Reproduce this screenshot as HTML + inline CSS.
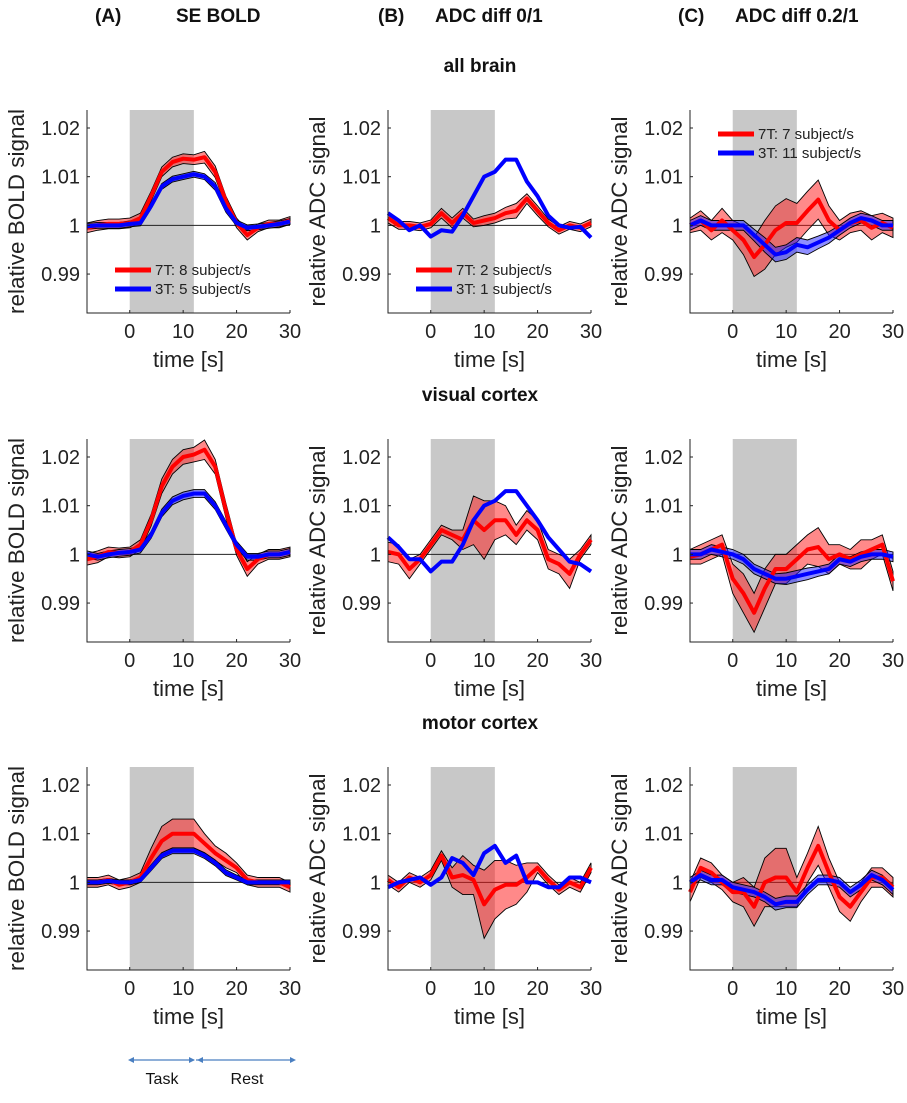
<!DOCTYPE html>
<html><head><meta charset="utf-8"><style>
body{margin:0;background:#fff;}
svg{display:block;font-family:"Liberation Sans",Arial,sans-serif;}
</style></head><body>
<svg id="fig" width="907" height="1103" viewBox="0 0 907 1103">
<g font-weight="bold" font-size="19" fill="#111">
<text x="95" y="22">(A)</text>
<text x="176" y="22">SE BOLD</text>
<text x="378" y="22">(B)</text>
<text x="435" y="22">ADC diff 0/1</text>
<text x="678" y="22">(C)</text>
<text x="735" y="22">ADC diff 0.2/1</text>
</g>
<g font-weight="bold" font-size="19" fill="#111" text-anchor="middle">
<text x="480" y="72">all brain</text>
<text x="480" y="401">visual cortex</text>
<text x="480" y="729">motor cortex</text>
</g>
<g stroke="#4a7fc1" fill="#4a7fc1">
<line x1="130" y1="1060" x2="194" y2="1060" stroke-width="1.2"/>
<line x1="196" y1="1060" x2="294" y2="1060" stroke-width="1.2"/>
<path d="M128 1060 l6 -3 v6z M195 1060 l-6 -3 v6z M197 1060 l6 -3 v6z M296 1060 l-6 -3 v6z" stroke="none"/>
</g>
<text x="162" y="1084" font-size="16" text-anchor="middle" fill="#111">Task</text>
<text x="247" y="1084" font-size="16" text-anchor="middle" fill="#111">Rest</text>
<g id="panels"></g>
</svg>
<script>
const times = [-8,-6,-4,-2,0,2,4,6,8,10,12,14,16,18,20,22,24,26,28,30];
// values: deviation from 1, in units of 0.001
const a1Red = [-0.5,0,0.3,0.3,0.5,1.5,6,11,13,13.7,13.5,14,11,5,0.5,-2,-0.5,0.3,0.3,1];
const a1RedBand = [1,1,1,1,1,1,1,1,1,1,1,1.2,1.2,1,1,1,0.8,0.8,0.8,0.8];
const a1Blue = [-0.2,0,0,0,0.3,0.5,4,8,9.5,10,10.5,10,8,3.5,0.5,-0.5,-0.3,0,0.3,0.8];
const a1BlueBand = [0.6,0.6,0.6,0.6,0.6,0.6,0.6,0.6,0.6,0.6,0.6,0.6,0.8,0.8,0.6,0.6,0.6,0.6,0.6,0.6];
const b1Red = [1.5,0,0,-0.3,0.3,2.5,0.5,2.5,0.5,1,1.5,2.5,3,5.5,3,0.5,-1,0,-0.5,0.5];
const b1RedBand = [1,0.8,0.8,0.8,0.8,1,1,1,0.8,1,1,1.2,1.5,1,1,0.8,0.8,0.8,0.8,0.8];
const b1Blue = [2.5,1,-1,0,-2.3,-1,-1.3,2,6,10,11,13.5,13.5,9,6,2,0,-0.5,-0.3,-2.5];
const c1Red = [0,1,-1,1,-1,-3,-6.5,-4,-1,0.5,0.5,3,5.3,1,-1,0.5,1,-0.5,0.5,-0.5];
const c1RedBand = [1.5,2,2,2.5,2,3,4,5,5,5,4,4,4,3,2,2,2,2.5,2,2];
const c1Blue = [0,1,0,0,0,0,-2,-4,-6,-5.5,-4,-4.5,-3.5,-2.5,-1,0.5,1.5,1,0,0];
const c1BlueBand = [1,1,1,1,1,1,1.2,1.5,1.5,1.5,1.5,1.5,1.3,1.2,1,1,1,1,1,1];
const a2Red = [-1,-0.5,0.5,0.3,0.5,2,7,14,18,20,20.5,21.5,18,9,1,-3,-1,0,0,0.5];
const a2RedBand = [1.2,1.2,1,1,1,1,1.2,1.5,1.5,1.5,1.5,2,1.5,1.5,1.2,1.5,1,1,1,1];
const a2Blue = [0,-0.5,0,0.3,0.5,1,4,8.5,11,12,12.5,12.5,10,6,2,-0.5,-0.5,0,0,0.5];
const a2BlueBand = [0.7,0.7,0.7,0.7,0.7,0.7,0.7,0.8,0.8,0.8,0.8,0.8,0.8,0.8,0.7,0.7,0.7,0.7,0.7,0.7];
const b2Red = [0.5,0,-3,-1,2,5,4,3,7,5,7,7,4,7,5,-1,-2,-4,0,3];
const b2RedBand = [2,2,2,1,1,1,1,2,5,6,4,3,2,2,2,2,2,3,1,1];
const b2Blue = [3.5,1.5,-1,-1,-3.5,-1.5,-1.5,2,7,10,11,13,13,10,7,3.5,1,-1.5,-2,-3.5];
const c2Red = [-0.5,0,1,2,-5,-8,-12,-7,-3,-3,-1,1,1.5,-1,0,-1,0,1,2,-5.5];
const c2RedBand = [1.5,2,2,2,3,4,4,4,3,3,3,3,4,3,2,2,3,2,2,2];
const c2Blue = [0,0,1,0.5,0,-1,-3,-4,-5,-5,-4.5,-4,-3.5,-3,-1,-1.5,-0.5,0,0,-0.5];
const c2BlueBand = [1,1,1,1,1,1,1,1,1,1.2,1.2,1.2,1,1,1,1,1,1,1,1];
const a3Red = [0,0,0.5,-0.5,0,1,5,8.5,10,10,10,8,6,4.5,3,0.5,0,0,0,-1];
const a3RedBand = [1,1,1,1,1,1,2,3,3,3,3,2,1.5,1.5,1,1,1,1,1,1];
const a3Blue = [0,0,0.3,0,0,0.5,3,5.5,6.5,6.5,6.5,5.5,4,2,1,0,0,0,0,0];
const a3BlueBand = [0.5,0.5,0.5,0.5,0.5,0.5,0.6,0.6,0.6,0.6,0.6,0.6,0.6,0.6,0.5,0.5,0.5,0.5,0.5,0.5];
const b3Red = [0.5,-1,1,0,1.5,5.5,1,1.5,0.5,-4.5,-1.5,-0.5,-0.5,1,3,0.5,-1.5,0,-1,3];
const b3RedBand = [1,1,1,1,1,1,2,4,3,7,6,5,4,3,1,1,1,1,1,1];
const b3Blue = [-1,0,0.5,1,-0.5,1,5,4,1.5,6,7.5,4,5.5,0,0,-1,-1,1,1,0];
const c3Red = [-2,3,2,0,-2,-2,-5,0,1,1,-2,3,7.5,2,-3,-5,-2,1,1,-1];
const c3RedBand = [2,2,2,1.5,2,3,4,5,6,6,3,3,4,3,3,3,2,2,2,2];
const c3Blue = [0,1.5,0.5,0.5,-1,-1.5,-2,-3,-4.5,-4,-4,-1.5,0.5,0.5,0,-2,-0.5,1.5,0.5,-1.5];
const c3BlueBand = [1,1,1,1,1,1,1,1,1.2,1.2,1.2,1,1,1,1,1,1,1,1,1];
const yTicks = ["1.02","1.01","1","0.99"];
const xTicks = ["0","10","20","30"];

const NS = "http://www.w3.org/2000/svg";
const root = document.getElementById('panels');
function mk(tag, attrs, parent){ const e=document.createElementNS(NS,tag); for(const k in attrs) e.setAttribute(k,attrs[k]); parent.appendChild(e); return e; }

const colX = [87, 388, 690];
const rowY = [110, 439, 767];
const W = 203, H = 203;
const panels = [
 {c:0,r:0,red:a1Red,rb:a1RedBand,blue:a1Blue,bb:a1BlueBand,lab:"relative BOLD signal",leg:["7T: 8 subject/s","3T: 5 subject/s"],ly:270},
 {c:1,r:0,red:b1Red,rb:b1RedBand,blue:b1Blue,bb:null,lab:"relative ADC signal",leg:["7T: 2 subject/s","3T: 1 subject/s"],ly:270},
 {c:2,r:0,red:c1Red,rb:c1RedBand,blue:c1Blue,bb:c1BlueBand,lab:"relative ADC signal",leg:["7T: 7 subject/s","3T: 11 subject/s"],ly:134},
 {c:0,r:1,red:a2Red,rb:a2RedBand,blue:a2Blue,bb:a2BlueBand,lab:"relative BOLD signal"},
 {c:1,r:1,red:b2Red,rb:b2RedBand,blue:b2Blue,bb:null,lab:"relative ADC signal"},
 {c:2,r:1,red:c2Red,rb:c2RedBand,blue:c2Blue,bb:c2BlueBand,lab:"relative ADC signal"},
 {c:0,r:2,red:a3Red,rb:a3RedBand,blue:a3Blue,bb:a3BlueBand,lab:"relative BOLD signal"},
 {c:1,r:2,red:b3Red,rb:b3RedBand,blue:b3Blue,bb:null,lab:"relative ADC signal"},
 {c:2,r:2,red:c3Red,rb:c3RedBand,blue:c3Blue,bb:c3BlueBand,lab:"relative ADC signal"},
];
panels.forEach((p,i)=>{
  const x0=colX[p.c], y0=rowY[p.r];
  const xs = t => x0 + (t+8)/38*W;
  const ys = v => y0 + (1.0237 - v)/(1.0237-0.982)*H;
  const g = mk('g',{},root);
  
  
  const sh = mk('rect',{x:xs(0),y:y0,width:xs(12)-xs(0),height:H,fill:'#c8c8c8'},g);
  
  
  const zl = mk('line',{x1:x0,x2:x0+W,y1:ys(1),y2:ys(1),stroke:'#222','stroke-width':1},g);
  
  
  function band(m,b,fill,name){
    const up=times.map((t,k)=>xs(t)+','+ys(1+(m[k]+b[k])/1000));
    const dn=times.map((t,k)=>xs(t)+','+ys(1+(m[k]-b[k])/1000)).reverse();
    const e=mk('polygon',{points:up.concat(dn).join(' '),fill:fill,stroke:'#000','stroke-width':0.9},g);
    
    
  }
  function line(m,col,name){
    const e=mk('polyline',{points:times.map((t,k)=>xs(t)+','+ys(1+m[k]/1000)).join(' '),fill:'none',stroke:col,'stroke-width':4,'stroke-linejoin':'round'},g);
    
    
  }
  band(p.red,p.rb,'rgba(255,20,20,0.5)','band-7t');
  if(p.bb) band(p.blue,p.bb,'rgba(30,30,255,0.5)','band-3t');
  line(p.red,'#ff0000','line-7t');
  line(p.blue,'#0000ff','line-3t');
  const ax = mk('path',{d:`M${x0} ${y0} V${y0+H} H${x0+W}`,fill:'none',stroke:'#222','stroke-width':1},g);
  
  
  const yv=[1.02,1.01,1,0.99];
  yTicks.forEach((lbl,k)=>{
    const y=ys(yv[k]);
    mk('line',{x1:x0,x2:x0+3,y1:y,y2:y,stroke:'#222'},g);
    const t=mk('text',{x:x0-7,y:y+7,'font-size':20,'text-anchor':'end',fill:'#222'},g);
    t.textContent=lbl;
    
    
  });
  xTicks.forEach((lbl,k)=>{
    const x=xs(+lbl);
    mk('line',{x1:x,x2:x,y1:y0+H,y2:y0+H-3,stroke:'#222'},g);
    const t=mk('text',{x:x,y:y0+H+25,'font-size':20,'text-anchor':'middle',fill:'#222'},g);
    t.textContent=lbl;
    
    
  });
  const xl=mk('text',{x:x0+W/2,y:y0+H+54,'font-size':22,'text-anchor':'middle',fill:'#222'},g);
  xl.textContent='time [s]';
  
  
  const yl=mk('text',{x:0,y:0,'font-size':22.5,'text-anchor':'middle',fill:'#222',transform:`translate(${x0-63},${y0+H/2}) rotate(-90)`},g);
  yl.textContent=p.lab;
  
  
  if(p.leg){
    const lx=x0+28;
    [['#ff0000',p.leg[0],p.ly],['#0000ff',p.leg[1],p.ly+19]].forEach(([col,txt,y])=>{
      const le=mk('g',{},g);
      
      
      mk('line',{x1:lx,x2:lx+36,y1:y,y2:y,stroke:col,'stroke-width':5},le);
      const t=mk('text',{x:lx+40,y:y+5,'font-size':15,fill:'#222'},le);
      t.textContent=txt;
    });
  }
});
</script>
</body></html>
